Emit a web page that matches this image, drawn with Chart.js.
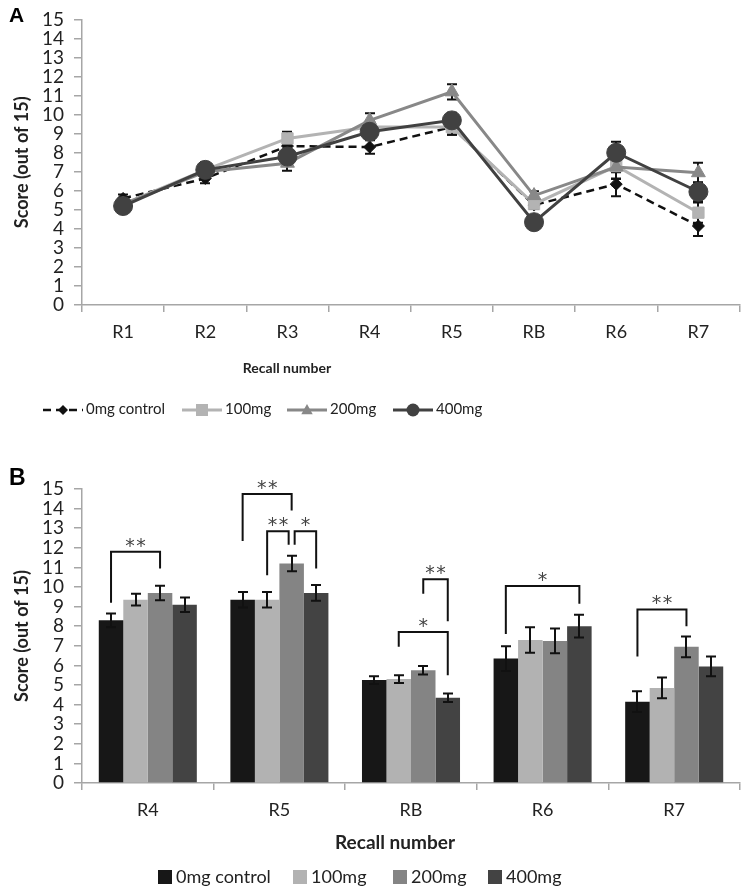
<!DOCTYPE html>
<html><head><meta charset="utf-8">
<script src="https://cdn.jsdelivr.net/npm/chart.js@4.4.1/dist/chart.umd.min.js"></script>
<style>
html,body{margin:0;padding:0;background:#fff;}
#wrap{position:relative;width:750px;height:894px;overflow:hidden;background:#fff;}
.box{position:absolute;left:0;width:750px;height:447px;}
canvas{display:block;}
</style></head><body>
<div id="wrap">
<div class="box" style="top:0"><canvas id="chartA" width="750" height="447"></canvas></div>
<div class="box" style="top:447px"><canvas id="chartB" width="750" height="447"></canvas></div>
</div>
<script>
// ---------- DATA ----------
const lineCategories = ['R1', 'R2', 'R3', 'R4', 'R5', 'RB', 'R6', 'R7'];
const barCategories  = ['R4', 'R5', 'RB', 'R6', 'R7'];
const seriesNames = ['0mg control', '100mg', '200mg', '400mg'];

const control = [5.6, 6.65, 8.35, 8.3, 9.35, 5.25, 6.35, 4.15];
const mg100   = [5.3, 7.1, 8.75, 9.35, 9.35, 5.3, 7.3, 4.85];
const mg200   = [5.3, 7.0, 7.45, 9.7, 11.2, 5.75, 7.25, 6.95];
const mg400   = [5.2, 7.1, 7.8, 9.1, 9.7, 4.35, 8.0, 5.95];

const controlErr = [0.2, 0.25, 0.3, 0.35, 0.4, 0.2, 0.63, 0.53];
const mg100Err   = [0.2, 0.35, 0.35, 0.3, 0.4, 0.2, 0.65, 0.53];
const mg200Err   = [0.25, 0.35, 0.4, 0.37, 0.4, 0.22, 0.63, 0.53];
const mg400Err   = [0.2, 0.4, 0.35, 0.37, 0.4, 0.22, 0.58, 0.5];

const yMin = 0, yMax = 15, yStep = 1;

// significance brackets (panel B): category, from-series, to-series, leg levels, top level, label
const sigCategory   = ['R4', 'R5', 'R5', 'R5', 'RB', 'RB', 'R6', 'R7'];
const sigFrom       = [0, 0, 1, 2, 1, 2, 0, 0];
const sigTo         = [2, 2, 2, 3, 3, 3, 3, 2];
const sigFromLevel  = [9.2, 12.35, 10.6, 12.15, 6.95, 9.65, 7.6, 6.45];
const sigToLevel    = [10.95, 13.9, 12.15, 10.95, 5.5, 8.25, 9.15, 8.0];
const sigTopLevel   = [11.8, 14.75, 12.85, 12.85, 7.7, 10.4, 10.05, 8.85];
const sigLabels     = ['**', '**', '**', '*', '*', '**', '*', '**'];

// ---------- STYLE ----------
const FONT = 'Lato, "Open Sans", sans-serif';
const TEXT = '#222';
const AXIS = '#a6a6a6';
const lineColors = ['#111111', '#b3b3b3', '#888888', '#414141'];
const barColors  = ['#171717', '#b2b2b2', '#848484', '#434343'];
const markerStyles = ['rectRot', 'rect', 'triangle', 'circle'];

const barStart = lineCategories.indexOf(barCategories[0]);
const lineSeries = [control, mg100, mg200, mg400];
const lineErrs = [controlErr, mg100Err, mg200Err, mg400Err];

function drawMarker(ctx, style, x, y, r, color) {
  ctx.fillStyle = color;
  ctx.beginPath();
  if (style === 'rectRot') { ctx.moveTo(x, y - r); ctx.lineTo(x + r, y); ctx.lineTo(x, y + r); ctx.lineTo(x - r, y); }
  else if (style === 'rect') { ctx.rect(x - r, y - r, 2 * r, 2 * r); }
  else if (style === 'triangle') { ctx.moveTo(x, y - r); ctx.lineTo(x + r * 0.95, y + r * 0.7); ctx.lineTo(x - r * 0.95, y + r * 0.7); }
  else { ctx.arc(x, y, r, 0, Math.PI * 2); }
  ctx.closePath();
  ctx.fill();
}

function makeErrorPlugin(id, hook) {
  return {
    id,
    [hook](chart) {
      const ctx = chart.ctx, ys = chart.scales.y;
      ctx.save();
      ctx.strokeStyle = '#111';
      ctx.lineWidth = 2;
      chart.data.datasets.forEach((ds, i) => {
        const meta = chart.getDatasetMeta(i);
        meta.data.forEach((el, j) => {
          const v = ds.data[j], e = ds.errors[j];
          const x = Math.round(el.x);
          const yt = ys.getPixelForValue(v + e), yb = ys.getPixelForValue(v - e);
          ctx.beginPath();
          ctx.moveTo(x, yt); ctx.lineTo(x, yb);
          ctx.moveTo(x - 5, yt); ctx.lineTo(x + 5, yt);
          ctx.moveTo(x - 5, yb); ctx.lineTo(x + 5, yb);
          ctx.stroke();
        });
      });
      ctx.restore();
    }
  };
}

const decorA = {
  id: 'decorA',
  afterDraw(chart) {
    const ctx = chart.ctx;
    ctx.save();
    ctx.fillStyle = '#000';
    ctx.font = 'bold 21px "Liberation Sans", Arial, sans-serif';
    ctx.textBaseline = 'top';
    ctx.textAlign = 'left';
    ctx.fillText('A', 9, 6);
    // x title
    ctx.fillStyle = TEXT;
    ctx.font = 'bold 14px ' + FONT;
    ctx.textAlign = 'center';
    ctx.textBaseline = 'middle';
    ctx.fillText('Recall number', 287, 368);
    // legend
    const starts = [43, 182, 287, 393];
    const ly = 410;
    chart.data.datasets.forEach((ds, i) => {
      const x0 = starts[i];
      ctx.save();
      ctx.strokeStyle = ds.borderColor;
      ctx.lineWidth = ds.borderWidth;
      ctx.setLineDash(ds.borderDash || []);
      ctx.beginPath(); ctx.moveTo(x0, ly); ctx.lineTo(x0 + 40, ly); ctx.stroke();
      ctx.restore();
      const r = { rectRot: 5, rect: 6, triangle: 6, circle: 6.5 }[ds.pointStyle];
      drawMarker(ctx, ds.pointStyle, x0 + 20, ly, r, ds.borderColor);
      ctx.fillStyle = TEXT;
      ctx.font = '15px ' + FONT;
      ctx.textAlign = 'left';
      ctx.textBaseline = 'middle';
      ctx.fillText(ds.label, x0 + 43, ly - 1);
    });
    ctx.restore();
  }
};

const decorB = {
  id: 'decorB',
  afterDraw(chart) {
    const ctx = chart.ctx;
    ctx.save();
    ctx.fillStyle = '#000';
    ctx.font = 'bold 23px "Liberation Sans", Arial, sans-serif';
    ctx.textBaseline = 'top';
    ctx.textAlign = 'left';
    ctx.fillText('B', 9, 20);
    ctx.fillStyle = TEXT;
    ctx.font = 'bold 19px ' + FONT;
    ctx.textAlign = 'center';
    ctx.textBaseline = 'middle';
    ctx.fillText('Recall number', 395, 396);
    const starts = [158, 293, 393, 488];
    const ly = 430;
    chart.data.datasets.forEach((ds, i) => {
      const x0 = starts[i];
      ctx.fillStyle = ds.backgroundColor;
      ctx.fillRect(x0, ly - 7, 14, 14);
      ctx.fillStyle = TEXT;
      ctx.font = '18px ' + FONT;
      ctx.textAlign = 'left';
      ctx.textBaseline = 'middle';
      ctx.fillText(ds.label, x0 + 18, ly);
    });
    // significance brackets
    const ys = chart.scales.y;
    ctx.strokeStyle = '#111';
    ctx.lineWidth = 2;
    ctx.fillStyle = '#444';
    ctx.font = '19px "DejaVu Sans", sans-serif';
    ctx.textAlign = 'center';
    ctx.textBaseline = 'middle';
    sigLabels.forEach((lab, k) => {
      const c = barCategories.indexOf(sigCategory[k]);
      let x1 = chart.getDatasetMeta(sigFrom[k]).data[c].x;
      let x2 = chart.getDatasetMeta(sigTo[k]).data[c].x;
      // nudge ends that share a bar with another bracket at same level
      sigLabels.forEach((_, m) => {
        if (m === k || sigCategory[m] !== sigCategory[k] || sigTopLevel[m] !== sigTopLevel[k]) return;
        if (sigTo[k] === sigFrom[m]) x2 -= 3;
        if (sigFrom[k] === sigTo[m]) x1 += 3;
      });
      const yl = ys.getPixelForValue(sigFromLevel[k]);
      const yr = ys.getPixelForValue(sigToLevel[k]);
      const yt = ys.getPixelForValue(sigTopLevel[k]);
      ctx.beginPath();
      ctx.moveTo(x1, yl); ctx.lineTo(x1, yt); ctx.lineTo(x2, yt); ctx.lineTo(x2, yr);
      ctx.stroke();
      const chars = lab.split('');
      const cx = (x1 + x2) / 2, gap = 11;
      chars.forEach((ch, n) => {
        ctx.fillText(ch, cx + (n - (chars.length - 1) / 2) * gap, yt - 5);
      });
    });
    ctx.restore();
  }
};

const commonY = () => ({
  min: yMin, max: yMax,
  ticks: { stepSize: yStep, autoSkip: false, padding: 10, color: TEXT, font: { family: FONT, size: 19, lineHeight: 1 } },
  grid: { drawOnChartArea: false, drawTicks: true, tickLength: 8, color: AXIS, lineWidth: 1.5 },
  border: { color: AXIS, width: 1.5 },
  title: { display: true, text: 'Score (out of 15)', color: TEXT, font: { family: FONT, size: 18, weight: 'bold' }, padding: { top: 11, bottom: 0 } },
  afterFit: (s) => { s.width = 82; }
});
const commonX = () => ({
  type: 'category',
  offset: true,
  ticks: { color: TEXT, padding: 9, autoSkip: false, maxRotation: 0, font: { family: FONT, size: 18 } },
  grid: { offset: true, drawOnChartArea: false, drawTicks: true, tickLength: 7, color: AXIS, lineWidth: 1.5 },
  border: { color: AXIS, width: 1.5 },
  afterFit: (s) => { s.height = 42; }
});

// ---------- CHART A ----------
new Chart(document.getElementById('chartA'), {
  type: 'line',
  data: {
    labels: lineCategories,
    datasets: seriesNames.map((name, i) => ({
      label: name,
      data: lineSeries[i],
      errors: lineErrs[i],
      borderColor: lineColors[i],
      backgroundColor: lineColors[i],
      pointBackgroundColor: lineColors[i],
      pointBorderColor: lineColors[i],
      pointBorderWidth: 1,
      borderWidth: i === 0 ? 2.5 : 3,
      borderDash: i === 0 ? [8, 5] : [],
      pointStyle: markerStyles[i],
      pointRadius: [6, 8, 8, 9.5][i],
      pointHoverRadius: [6, 8, 8, 9.5][i],
      tension: 0,
      fill: false,
      order: 4 - i
    }))
  },
  options: {
    responsive: false,
    animation: false,
    layout: { padding: { left: 0, right: 10, top: 11, bottom: 100 } },
    plugins: { legend: { display: false }, tooltip: { enabled: false } },
    scales: { x: commonX(), y: commonY() }
  },
  plugins: [makeErrorPlugin('errA', 'beforeDatasetsDraw'), decorA]
});

// ---------- CHART B ----------
new Chart(document.getElementById('chartB'), {
  type: 'bar',
  data: {
    labels: barCategories,
    datasets: seriesNames.map((name, i) => ({
      label: name,
      data: lineSeries[i].slice(barStart),
      errors: lineErrs[i].slice(barStart),
      backgroundColor: barColors[i],
      borderWidth: 0,
      categoryPercentage: 0.745,
      barPercentage: 1.0
    }))
  },
  options: {
    responsive: false,
    animation: false,
    layout: { padding: { left: 0, right: 10, top: 42, bottom: 69 } },
    plugins: { legend: { display: false }, tooltip: { enabled: false } },
    scales: { x: commonX(), y: commonY() }
  },
  plugins: [makeErrorPlugin('errB', 'afterDatasetsDraw'), decorB]
});
</script>
</body></html>
